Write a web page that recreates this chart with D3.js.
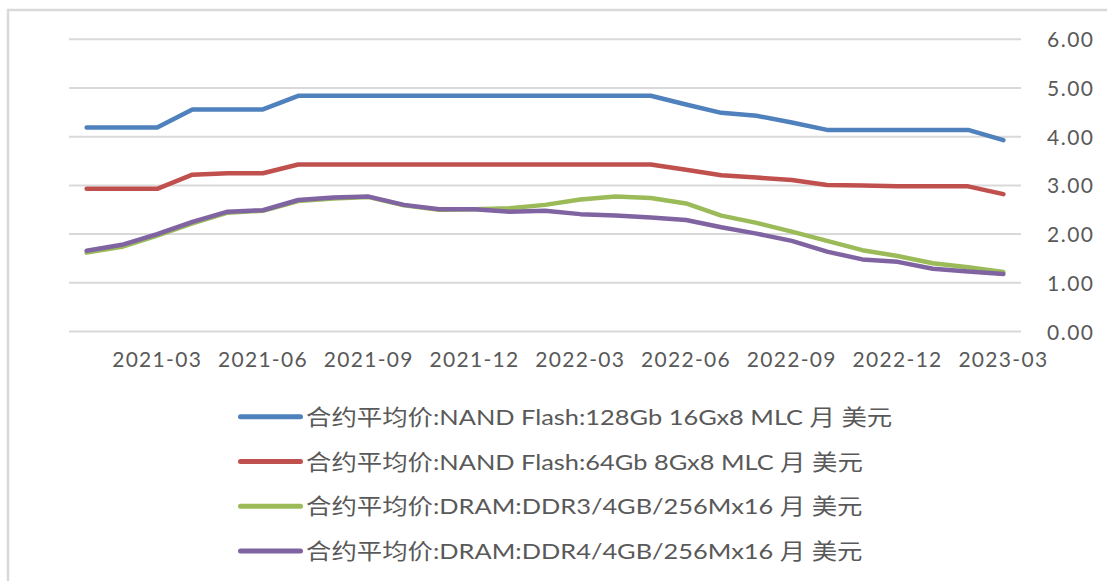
<!DOCTYPE html>
<html>
<head>
<meta charset="utf-8">
<script src="https://cdn.jsdelivr.net/npm/d3@7"></script>
<style>
    body { margin: 0; background: #fff; }
    text { font-family: Lato, "Noto Sans CJK SC", sans-serif; fill: #595959; }
</style>
</head>
<body>
<svg id="chart" width="1107" height="581"></svg>
<script>
// months 2021-01 .. 2023-03
var months = ["2021-01", "2021-02", "2021-03", "2021-04", "2021-05", "2021-06", "2021-07", "2021-08", "2021-09",
    "2021-10", "2021-11", "2021-12", "2022-01", "2022-02", "2022-03", "2022-04", "2022-05", "2022-06",
    "2022-07", "2022-08", "2022-09", "2022-10", "2022-11", "2022-12", "2023-01", "2023-02", "2023-03"];

var tickMonths = ["2021-03", "2021-06", "2021-09", "2021-12", "2022-03", "2022-06", "2022-09", "2022-12", "2023-03"];
var yTicks = [0, 1, 2, 3, 4, 5, 6];

var nand128 = [4.19, 4.19, 4.19, 4.56, 4.56, 4.56, 4.84, 4.84, 4.84, 4.84, 4.84, 4.84, 4.84, 4.84,
    4.84, 4.84, 4.84, 4.66, 4.49, 4.43, 4.29, 4.14, 4.14, 4.14, 4.14, 4.14, 3.93];
var nand64 = [2.93, 2.93, 2.93, 3.22, 3.25, 3.25, 3.43, 3.43, 3.43, 3.43, 3.43, 3.43, 3.43, 3.43,
    3.43, 3.43, 3.43, 3.32, 3.21, 3.16, 3.11, 3.01, 3.00, 2.98, 2.98, 2.98, 2.82];
var ddr3 = [1.62, 1.74, 1.97, 2.22, 2.44, 2.48, 2.68, 2.73, 2.76, 2.59, 2.50, 2.51, 2.53, 2.60,
    2.71, 2.77, 2.74, 2.63, 2.38, 2.23, 2.05, 1.86, 1.67, 1.55, 1.40, 1.32, 1.22];
var ddr4 = [1.66, 1.78, 2.00, 2.25, 2.46, 2.49, 2.70, 2.75, 2.77, 2.60, 2.51, 2.51, 2.46, 2.48,
    2.41, 2.38, 2.34, 2.29, 2.14, 2.01, 1.86, 1.64, 1.48, 1.43, 1.29, 1.23, 1.18];

var seriesNames = ["合约平均价:NAND Flash:128Gb 16Gx8 MLC 月 美元",
    "合约平均价:NAND Flash:64Gb 8Gx8 MLC 月 美元",
    "合约平均价:DRAM:DDR3/4GB/256Mx16 月 美元",
    "合约平均价:DRAM:DDR4/4GB/256Mx16 月 美元"];
var seriesColors = ["#4f81bd", "#c0504d", "#9bbb59", "#8064a2"];

var dataArr = [nand128, nand64, ddr3, ddr4].map(function (vals, i) {
    return {
        id: seriesNames[i],
        color: seriesColors[i],
        data: vals.map(function (v, j) { return {month: months[j], value: v}; })
    };
});

var svg = d3.select("#chart");

// outer frame (only top and left visible)
svg.append("path")
    .attr("d", "M8,581V10H1107")
    .attr("fill", "none")
    .attr("stroke", "#d9d9d9")
    .attr("stroke-width", 2.5);

var x = d3.scaleBand()
    .domain(months)
    .range([69, 1021]);

var y = d3.scaleLinear()
    .domain([0, 6])
    .range([331.5, 39.3]);

// gridlines
svg.append("g")
    .selectAll("line")
    .data(yTicks)
    .enter().append("line")
    .attr("x1", x.range()[0])
    .attr("x2", x.range()[1])
    .attr("y1", function (d) { return y(d); })
    .attr("y2", function (d) { return y(d); })
    .attr("stroke", "#d9d9d9")
    .attr("stroke-width", 2);

// right axis labels
var axisY = d3.axisRight(y)
    .tickValues(yTicks)
    .tickSize(0)
    .tickPadding(0)
    .tickFormat(d3.format(".2f"));

var gy = svg.append("g")
    .attr("transform", "translate(1047,0)")
    .call(axisY);
gy.select(".domain").remove();
gy.selectAll("text")
    .attr("font-size", 21)
    .attr("letter-spacing", 1.5)
    .attr("dy", "0.36em")
    .style("font-family", "Lato, sans-serif");

// bottom axis labels
var axisX = d3.axisBottom(x)
    .tickValues(tickMonths)
    .tickSize(0)
    .tickPadding(0);

var gx = svg.append("g")
    .attr("transform", "translate(0,352)")
    .call(axisX);
gx.select(".domain").remove();
gx.selectAll("text")
    .attr("font-size", 21)
    .attr("letter-spacing", 1.3)
    .attr("dy", "0.72em")
    .style("font-family", "Lato, sans-serif");

var line = d3.line()
    .x(function (d) { return x(d.month) + x.bandwidth() / 2; })
    .y(function (d) { return y(d.value); });

svg.append("g")
    .selectAll("path")
    .data(dataArr)
    .enter().append("path")
    .attr("d", function (d) { return line(d.data); })
    .attr("fill", "none")
    .attr("stroke", function (d) { return d.color; })
    .attr("stroke-width", 4.5)
    .attr("stroke-linejoin", "round")
    .attr("stroke-linecap", "round");

// legend
var legend = svg.append("g")
    .selectAll("g")
    .data(dataArr)
    .enter().append("g")
    .attr("transform", function (d, i) { return "translate(238," + (416.7 + i * 44.8) + ")"; });

legend.append("line")
    .attr("x1", 2.5)
    .attr("x2", 62.5)
    .attr("stroke", function (d) { return d.color; })
    .attr("stroke-width", 5)
    .attr("stroke-linecap", "round");

legend.append("text")
    .attr("transform", "translate(68,8) scale(1.155,1)")
    .attr("font-size", 22)
    .text(function (d) { return d.id; });
</script>
</body>
</html>
